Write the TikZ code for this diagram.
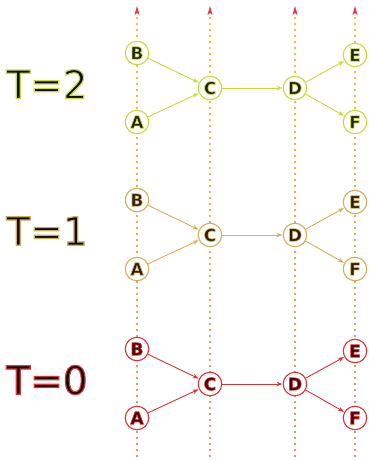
\documentclass[tikz,border=0pt]{standalone}
\usepackage{fontspec}
\setmainfont{DejaVu Sans}
\newfontfamily\biglabelfont[FakeBold=3]{DejaVu Sans}
\newfontfamily\letterfont[FakeBold=4]{DejaVu Sans Bold}
\usetikzlibrary{arrows.meta}
\definecolor{ctwo}{HTML}{C4DC3A}
\definecolor{ctwod}{HTML}{1E2200}
\definecolor{cone}{HTML}{D4AE58}
\definecolor{coned}{HTML}{2A1C00}
\definecolor{czero}{HTML}{D83434}
\definecolor{czerod}{HTML}{4A0006}
\definecolor{labelfill}{HTML}{0A0A0A}
\definecolor{linetop}{HTML}{E8C43C}
\definecolor{linebot}{HTML}{E49074}
\definecolor{tipred}{HTML}{E83A3A}
% #1 outline colour as "r g b", #2 fill colour name, #3 text
\newcommand\halotext[3]{\textcolor{#2}{\special{pdf:literal direct #1 RG}#3}}
\tikzset{
  statenode/.style={circle, draw=#1, line width=1.1pt, fill=white,
    minimum size=23.5pt, inner sep=0pt},
  edgearrow/.style={draw=#1, line width=0.9pt, -{Stealth[length=6pt,width=4.5pt]}, shorten >=0.3pt},
  timelabel/.style={inner sep=0pt, font=\biglabelfont\fontsize{39}{39}\selectfont},
  letter/.style={font=\letterfont\fontsize{17}{17}\selectfont}
}
\begin{document}
\begin{tikzpicture}[x=1pt,y=-1pt]
\useasboundingbox (0,0) rectangle (368,461);
% vertical dotted time lines with arrow tips
\foreach \cx/\nm in {137/a,210/c,295/d,355/e}{
  \foreach \yy in {17,23,...,459}{
    \pgfmathtruncatemacro\pp{(\yy-17)/4.42}
    \draw[line width=1.3pt, draw=linebot!\pp!linetop] (\cx,\yy) -- (\cx,\yy+2.2);
  }
  \coordinate (tip\nm) at (\cx,6);
  \fill[tipred] ([xshift=-2.6pt,yshift=-9pt]tip\nm) -- (tip\nm) -- ([xshift=2.6pt,yshift=-9pt]tip\nm) -- ([yshift=-7pt]tip\nm) -- cycle;
}
% the three time slices
\foreach \lab/\cm/\cd/\rgb/\oy in {2/ctwo/ctwod/{0.77 0.86 0.23}/0, 1/cone/coned/{0.83 0.68 0.35}/147, 0/czero/czerod/{0.85 0.2 0.2}/296}{
  \node[timelabel] (T\lab) at (47,84+\oy) {\halotext{\rgb}{labelfill}{T=\lab}};
  \begin{scope}[every node/.style={statenode=\cm, letter}]
    \node (B\lab) at (137,53+\oy) {\halotext{\rgb}{\cd}{B}};
    \node (A\lab) at (137,122+\oy) {\halotext{\rgb}{\cd}{A}};
    \node (C\lab) at (210,88+\oy) {\halotext{\rgb}{\cd}{C}};
    \node (D\lab) at (295,88+\oy) {\halotext{\rgb}{\cd}{D}};
    \node (E\lab) at (355,55+\oy) {\halotext{\rgb}{\cd}{E}};
    \node (F\lab) at (355,122+\oy) {\halotext{\rgb}{\cd}{F}};
  \end{scope}
  \draw[edgearrow=\cm] (B\lab) -- (C\lab);
  \draw[edgearrow=\cm] (A\lab) -- (C\lab);
  \draw[edgearrow=\cm] (C\lab) -- (D\lab);
  \draw[edgearrow=\cm] (D\lab) -- (E\lab);
  \draw[edgearrow=\cm] (D\lab) -- (F\lab);
}
\end{tikzpicture}
\end{document}
